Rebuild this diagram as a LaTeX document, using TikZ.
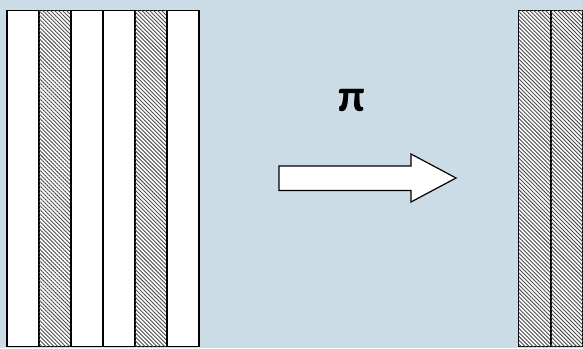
\documentclass[tikz,border=0pt]{standalone}
\usepackage{fontspec}
\newfontfamily\pifont{Carlito}
\usetikzlibrary{patterns.meta}
\definecolor{bgblue}{HTML}{CBDCE6}
\definecolor{hatchgray}{HTML}{4A4A4A}
\tikzset{
  stripe/.style={draw=black, line width=1.6pt, fill=white, rectangle, inner sep=0pt, outer sep=0pt,
    minimum width=32pt, minimum height=336pt, anchor=north west},
  hatched/.style={stripe, postaction={pattern={Lines[angle=-45, distance=2.8pt, line width=0.9pt]}, pattern color=hatchgray}},
  bigarrow/.style={draw=black, line width=1.2pt, fill=white, line join=miter}
}
\begin{document}
\begin{tikzpicture}[x=1pt,y=-1pt]
  \fill[bgblue] (0,0) rectangle (583,348);
  \useasboundingbox (0,0) rectangle (583,348);
  % left block
  \node[stripe]  (l1) at (7,10.5) {};
  \node[hatched] (l2) at (39,10.5) {};
  \node[stripe]  (l3) at (71,10.5) {};
  \node[stripe]  (l4) at (103,10.5) {};
  \node[hatched] (l5) at (135,10.5) {};
  \node[stripe]  (l6) at (167,10.5) {};
  % right block
  \node[hatched] (r1) at (518.5,10.5) {};
  \node[hatched] (r2) at (551,10.5) {};
  % label
  \node[font=\pifont\bfseries\fontsize{46}{46}\selectfont, inner sep=0pt] (pi) at (352,100) {π};
  % arrow
  \coordinate (tail) at (279,178);
  \coordinate (tip) at (456,178);
  \draw[bigarrow] (279,166) -- (411,166) -- (411,154) -- (tip) -- (411,202) -- (411,190.5) -- (279,190.5) -- cycle;
\end{tikzpicture}
\end{document}
